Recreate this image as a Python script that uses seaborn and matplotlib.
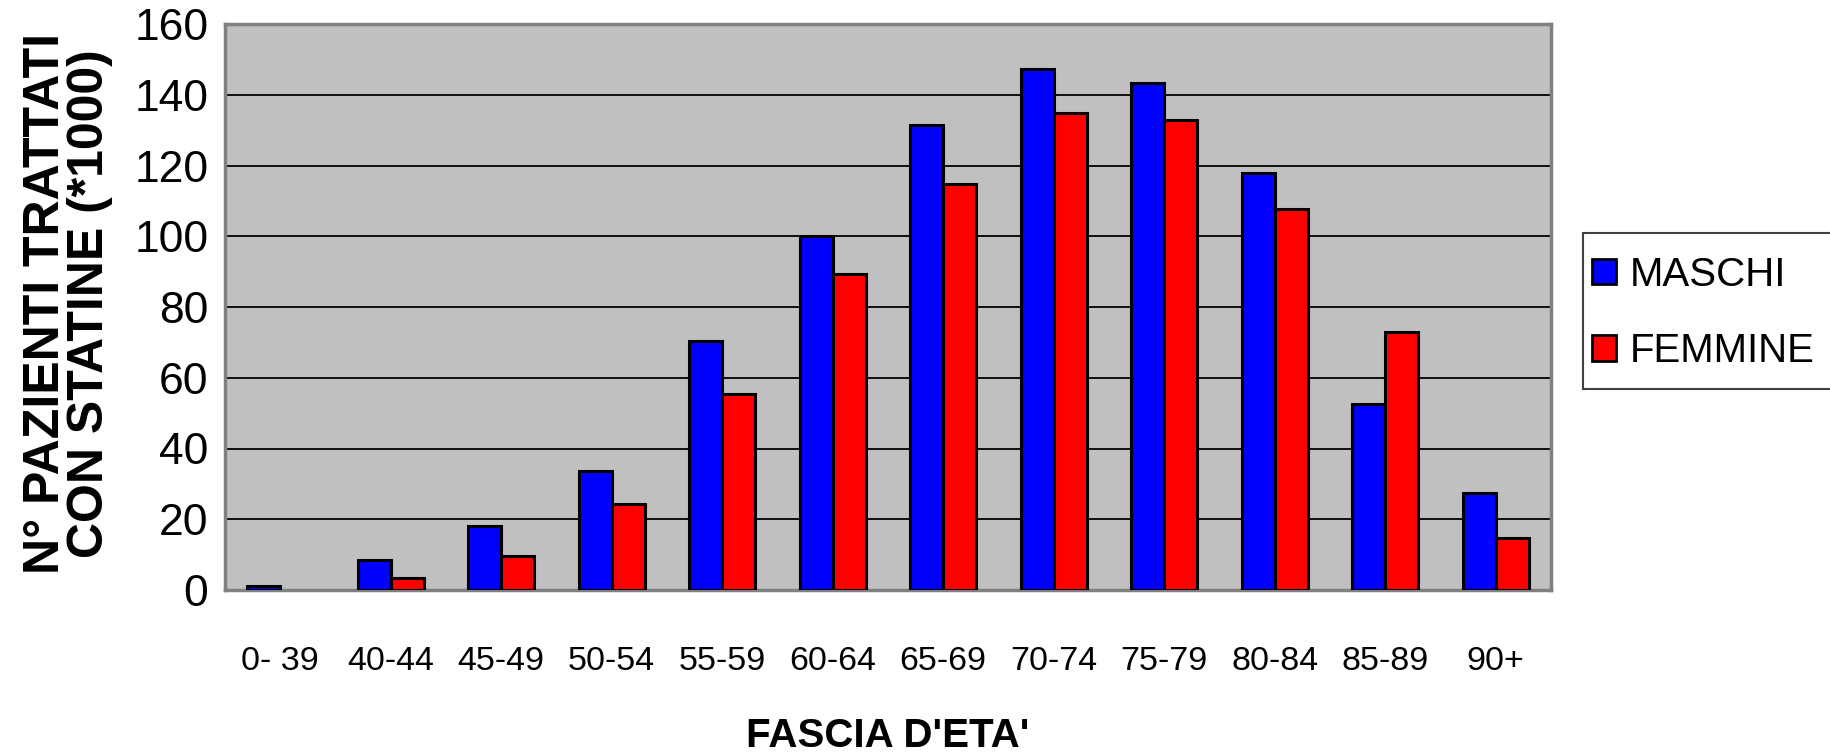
import numpy as np
import pandas as pd
import matplotlib
matplotlib.use("Agg")
import matplotlib.pyplot as plt
import seaborn as sns
from matplotlib.patches import Rectangle

categories = ["0- 39", "40-44", "45-49", "50-54", "55-59", "60-64",
              "65-69", "70-74", "75-79", "80-84", "85-89", "90+"]
maschi = [1, 8.5, 18, 33.7, 70.4, 100, 131.5, 147.4, 143.4, 117.8, 52.6, 27.4]
femmine = [0, 3.3, 9.7, 24.2, 55.4, 89.3, 114.9, 134.8, 132.8, 107.6, 72.8, 14.7]
series_names = ["MASCHI", "FEMMINE"]
y_ticks = [0, 20, 40, 60, 80, 100, 120, 140, 160]

df = pd.DataFrame({
    "fascia": categories * 2,
    "valore": maschi + femmine,
    "sesso": [series_names[0]] * len(categories) + [series_names[1]] * len(categories),
})

sns.set_style("white")
plt.rcParams["font.family"] = ["Liberation Sans", "DejaVu Sans"]
plt.rcParams["text.color"] = "black"
plt.rcParams["xtick.color"] = "black"
plt.rcParams["ytick.color"] = "black"
plt.rcParams["axes.labelcolor"] = "black"

W, H = 1831, 752
fig = plt.figure(figsize=(W / 100, H / 100), dpi=100)
ax = fig.add_axes([225 / W, (H - 590) / H, (1551 - 225) / W, (590 - 24) / H])
ax.set_facecolor("#C0C0C0")

sns.barplot(data=df, x="fascia", y="valore", hue="sesso", order=categories,
            hue_order=series_names,
            palette={"MASCHI": "#0000FF", "FEMMINE": "#FF0000"},
            width=0.6, edgecolor="black", linewidth=2.2, saturation=1,
            ax=ax, legend=False, zorder=3)

# hide outline of zero-height bars (nothing visible in the reference)
for p in ax.patches:
    if abs(p.get_height()) < 1e-9:
        p.set_linewidth(0)

ax.set_ylim(0, 160)
ax.set_xlim(-0.5, len(categories) - 0.5)
ax.set_yticks(y_ticks)
ax.set_yticklabels([str(v) for v in y_ticks], fontsize=32, color="black")
ax.tick_params(axis="y", length=10, width=1.2, color="black", pad=2, direction="out")
ax.set_xticks(range(len(categories)))
ax.set_xticklabels(categories, fontsize=24.5, color="black")
ax.tick_params(axis="x", which="major", length=0, pad=40)
ax.set_xticks(np.arange(-0.5, len(categories), 1), minor=True)
ax.tick_params(axis="x", which="minor", length=12, width=1.2, color="black", direction="out")

ax.yaxis.grid(True, color="black", linewidth=1.3, zorder=0)
ax.set_axisbelow(True)
for s in ["left", "right", "top", "bottom"]:
    ax.spines[s].set_visible(True)
    ax.spines[s].set_color("#808080")
    ax.spines[s].set_linewidth(2.5)

ax.set_xlabel("")
ax.set_ylabel("")
fig.text(888 / W, 1 - 736 / H, "FASCIA D'ETA'", fontsize=29, fontweight="bold",
         ha="center", va="center", color="black")
fig.text(68 / W, 1 - 304 / H, "N° PAZIENTI TRATTATI\nCON STATINE (*1000)",
         fontsize=36, fontweight="bold", rotation=90, ha="center", va="center",
         multialignment="center", linespacing=0.95, color="black")

# legend
fig.patches.append(Rectangle((1583 / W, 1 - 389 / H), 260 / W, 156 / H,
                             transform=fig.transFigure, facecolor="white",
                             edgecolor="#404040", linewidth=1.5))
handles = [Rectangle((0, 0), 1, 1, facecolor="#0000FF", edgecolor="black", linewidth=2),
           Rectangle((0, 0), 1, 1, facecolor="#FF0000", edgecolor="black", linewidth=2)]
leg = fig.legend(handles, series_names, loc="center left",
                 bbox_to_anchor=(1592 / W, 1 - 313 / H), frameon=False, fontsize=29,
                 handlelength=0.6, handleheight=0.6, handletextpad=0.33,
                 labelspacing=0.95, borderpad=0, borderaxespad=0)
for t in leg.get_texts():
    t.set_color("black")

fig.savefig("out.png", dpi=100)
